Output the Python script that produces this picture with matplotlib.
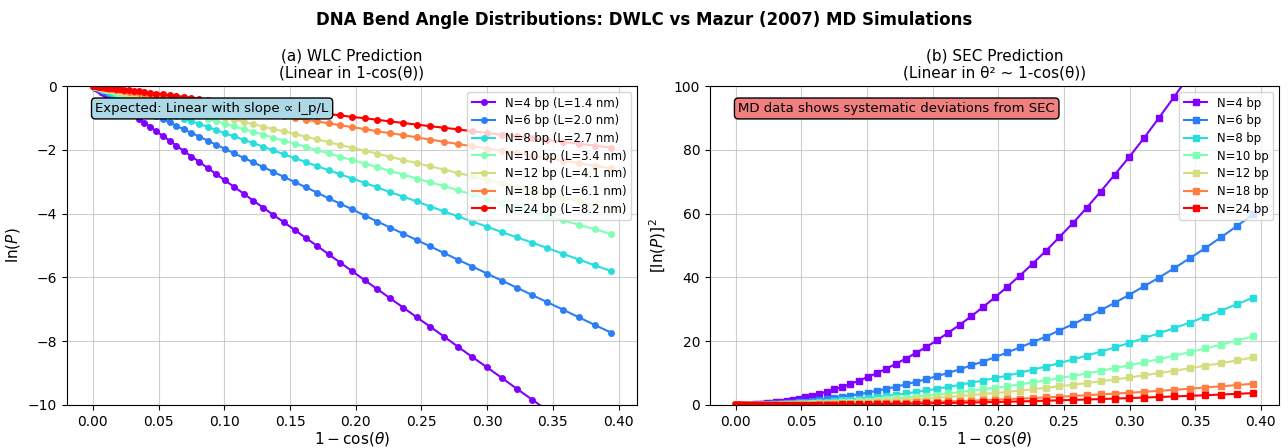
import numpy as np
import matplotlib
matplotlib.use('Agg')
import matplotlib.pyplot as plt

# segment sizes and contour lengths shown in the legend
n_bp = [4, 6, 8, 10, 12, 18, 24]
length_nm = [1.4, 2.0, 2.7, 3.4, 4.1, 6.1, 8.2]

# x positions, 1 - cos(theta)
one_minus_cos = [
    0.0000, 0.0001, 0.0005, 0.0011, 0.0019, 0.0030, 0.0044, 0.0060, 0.0078, 0.0098,
    0.0121, 0.0147, 0.0175, 0.0205, 0.0237, 0.0272, 0.0310, 0.0349, 0.0391, 0.0436,
    0.0482, 0.0531, 0.0583, 0.0636, 0.0692, 0.0750, 0.0811, 0.0873, 0.0938, 0.1005,
    0.1074, 0.1146, 0.1219, 0.1295, 0.1373, 0.1453, 0.1535, 0.1619, 0.1705, 0.1793,
    0.1883, 0.1975, 0.2069, 0.2165, 0.2263, 0.2363, 0.2464, 0.2568, 0.2673, 0.2780,
    0.2888, 0.2999, 0.3111, 0.3225, 0.3341, 0.3458, 0.3576, 0.3697, 0.3818, 0.3942,
]

# ln(P) per segment size
lnp_n4 = [
    0.00, -0.00, -0.01, -0.03, -0.06, -0.09, -0.13, -0.18, -0.23, -0.29,
    -0.36, -0.43, -0.51, -0.60, -0.70, -0.80, -0.91, -1.03, -1.15, -1.28,
    -1.42, -1.56, -1.71, -1.87, -2.04, -2.21, -2.38, -2.57, -2.76, -2.96,
    -3.16, -3.37, -3.59, -3.81, -4.04, -4.27, -4.51, -4.76, -5.01, -5.27,
    -5.54, -5.81, -6.09, -6.37, -6.66, -6.95, -7.25, -7.55, -7.86, -8.18,
    -8.50, -8.82, -9.15, -9.49, -9.83, -10.17, -10.52, -10.87, -11.23, -11.59,
]
lnp_n6 = [
    0.00, -0.00, -0.01, -0.02, -0.04, -0.06, -0.09, -0.12, -0.15, -0.19,
    -0.24, -0.29, -0.34, -0.40, -0.47, -0.53, -0.61, -0.68, -0.77, -0.85,
    -0.95, -1.04, -1.14, -1.25, -1.36, -1.47, -1.59, -1.71, -1.84, -1.97,
    -2.11, -2.25, -2.39, -2.54, -2.69, -2.85, -3.01, -3.17, -3.34, -3.52,
    -3.69, -3.87, -4.06, -4.25, -4.44, -4.63, -4.83, -5.03, -5.24, -5.45,
    -5.66, -5.88, -6.10, -6.32, -6.55, -6.78, -7.01, -7.25, -7.49, -7.73,
]
lnp_n8 = [
    0.00, -0.00, -0.01, -0.02, -0.03, -0.04, -0.06, -0.09, -0.11, -0.14,
    -0.18, -0.22, -0.26, -0.30, -0.35, -0.40, -0.46, -0.51, -0.58, -0.64,
    -0.71, -0.78, -0.86, -0.94, -1.02, -1.10, -1.19, -1.28, -1.38, -1.48,
    -1.58, -1.68, -1.79, -1.90, -2.02, -2.14, -2.26, -2.38, -2.51, -2.64,
    -2.77, -2.90, -3.04, -3.18, -3.33, -3.47, -3.62, -3.78, -3.93, -4.09,
    -4.25, -4.41, -4.58, -4.74, -4.91, -5.08, -5.26, -5.44, -5.62, -5.80,
]
lnp_n10 = [
    0.00, -0.00, -0.01, -0.01, -0.02, -0.04, -0.05, -0.07, -0.09, -0.12,
    -0.14, -0.17, -0.21, -0.24, -0.28, -0.32, -0.36, -0.41, -0.46, -0.51,
    -0.57, -0.63, -0.69, -0.75, -0.81, -0.88, -0.95, -1.03, -1.10, -1.18,
    -1.26, -1.35, -1.43, -1.52, -1.62, -1.71, -1.81, -1.90, -2.01, -2.11,
    -2.22, -2.32, -2.43, -2.55, -2.66, -2.78, -2.90, -3.02, -3.14, -3.27,
    -3.40, -3.53, -3.66, -3.79, -3.93, -4.07, -4.21, -4.35, -4.49, -4.64,
]
lnp_n12 = [
    0.00, -0.00, -0.00, -0.01, -0.02, -0.03, -0.04, -0.06, -0.08, -0.10,
    -0.12, -0.14, -0.17, -0.20, -0.23, -0.27, -0.30, -0.34, -0.38, -0.43,
    -0.47, -0.52, -0.57, -0.62, -0.68, -0.74, -0.79, -0.86, -0.92, -0.99,
    -1.05, -1.12, -1.20, -1.27, -1.35, -1.42, -1.50, -1.59, -1.67, -1.76,
    -1.85, -1.94, -2.03, -2.12, -2.22, -2.32, -2.42, -2.52, -2.62, -2.73,
    -2.83, -2.94, -3.05, -3.16, -3.28, -3.39, -3.51, -3.62, -3.74, -3.86,
]
lnp_n18 = [
    0.00, -0.00, -0.00, -0.01, -0.01, -0.02, -0.03, -0.04, -0.05, -0.06,
    -0.08, -0.10, -0.11, -0.13, -0.16, -0.18, -0.20, -0.23, -0.26, -0.28,
    -0.32, -0.35, -0.38, -0.42, -0.45, -0.49, -0.53, -0.57, -0.61, -0.66,
    -0.70, -0.75, -0.80, -0.85, -0.90, -0.95, -1.00, -1.06, -1.11, -1.17,
    -1.23, -1.29, -1.35, -1.42, -1.48, -1.54, -1.61, -1.68, -1.75, -1.82,
    -1.89, -1.96, -2.03, -2.11, -2.18, -2.26, -2.34, -2.42, -2.50, -2.58,
]
lnp_n24 = [
    0.00, -0.00, -0.00, -0.01, -0.01, -0.01, -0.02, -0.03, -0.04, -0.05,
    -0.06, -0.07, -0.09, -0.10, -0.12, -0.13, -0.15, -0.17, -0.19, -0.21,
    -0.24, -0.26, -0.29, -0.31, -0.34, -0.37, -0.40, -0.43, -0.46, -0.49,
    -0.53, -0.56, -0.60, -0.63, -0.67, -0.71, -0.75, -0.79, -0.84, -0.88,
    -0.92, -0.97, -1.01, -1.06, -1.11, -1.16, -1.21, -1.26, -1.31, -1.36,
    -1.42, -1.47, -1.53, -1.58, -1.64, -1.69, -1.75, -1.81, -1.87, -1.93,
]

all_lnp = [lnp_n4, lnp_n6, lnp_n8, lnp_n10, lnp_n12, lnp_n18, lnp_n24]

colors = plt.cm.rainbow(np.linspace(0, 1, len(n_bp)))
x = np.array(one_minus_cos)

fig = plt.figure(figsize=(12.88, 4.48), dpi=100)
ax1 = fig.add_axes([0.052, 0.096, 0.4425, 0.712])
ax2 = fig.add_axes([0.5512, 0.096, 0.4418, 0.712])

# (a) ln P against 1-cos
for i, lnp in enumerate(all_lnp):
    ax1.plot(x, lnp, 'o-', color=colors[i], markersize=4, linewidth=1.5,
             label=f'N={n_bp[i]} bp (L={length_nm[i]:.1f} nm)')
ax1.set_xlabel(r'$1 - \cos(\theta)$', fontsize=11, labelpad=1)
ax1.set_ylabel(r'$\ln(P)$', fontsize=11)
ax1.set_title('(a) WLC Prediction\n(Linear in 1-cos(θ))', fontsize=11)
ax1.set_ylim(-10, 0)
ax1.grid(True, alpha=0.6)
ax1.legend(loc='upper right', fontsize=8.4, labelspacing=0.4)
ax1.text(0.05, 0.95, 'Expected: Linear with slope ∝ l_p/L', transform=ax1.transAxes,
         va='top', fontsize=9.5,
         bbox=dict(boxstyle='round', facecolor='lightblue', edgecolor='black'))

# (b) squared ln P against 1-cos
for i, lnp in enumerate(all_lnp):
    ax2.plot(x, np.array(lnp) ** 2, 's-', color=colors[i], markersize=4, linewidth=1.5,
             label=f'N={n_bp[i]} bp')
ax2.set_xlabel(r'$1 - \cos(\theta)$', fontsize=11, labelpad=1)
ax2.set_ylabel(r'$[\ln(P)]^2$', fontsize=11)
ax2.set_title('(b) SEC Prediction\n(Linear in θ² ~ 1-cos(θ))', fontsize=11)
ax2.set_ylim(0, 100)
ax2.grid(True, alpha=0.6)
ax2.legend(loc='upper right', fontsize=8.4, labelspacing=0.4)
ax2.text(0.05, 0.95, 'MD data shows systematic deviations from SEC', transform=ax2.transAxes,
         va='top', fontsize=9.5,
         bbox=dict(boxstyle='round', facecolor='lightcoral', edgecolor='black'))

fig.suptitle('DNA Bend Angle Distributions: DWLC vs Mazur (2007) MD Simulations',
             fontsize=12, fontweight='bold', y=0.975)

fig.savefig('out.png', dpi=100)
